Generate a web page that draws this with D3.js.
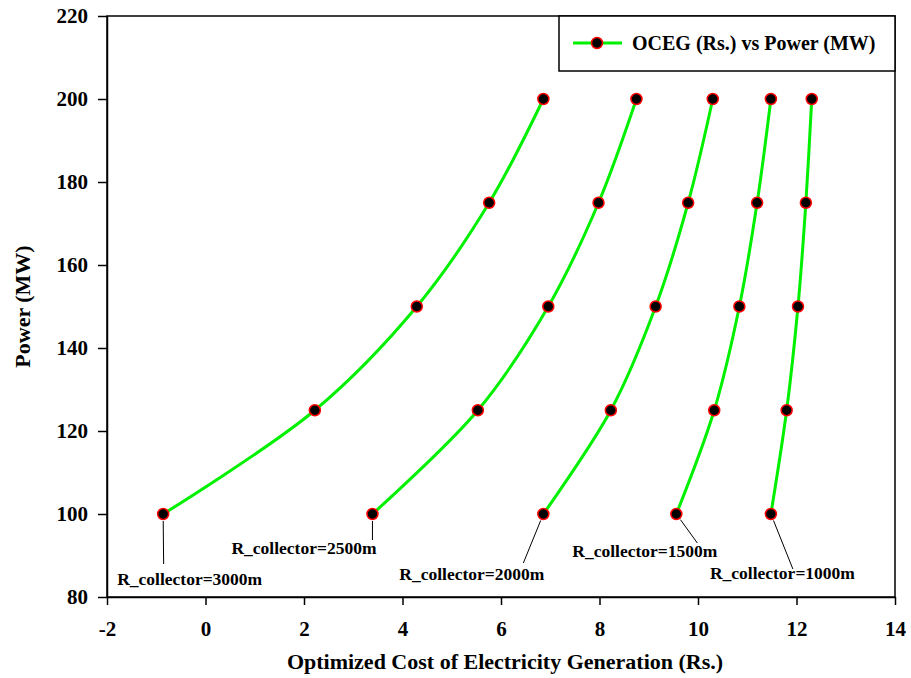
<!DOCTYPE html>
<html>
<head>
<meta charset="utf-8">
<script src="https://cdn.jsdelivr.net/npm/d3@7"></script>
<style>
  html, body { margin: 0; padding: 0; background: #fff; }
  svg { display: block; }
  text { font-family: "Liberation Serif", "Times New Roman", serif; font-weight: bold; fill: #000; }
</style>
</head>
<body>
<svg id="chart" width="911" height="678"></svg>
<script>
// ---- Data ----
const powerLevels = [100, 125, 150, 175, 200];
const seriesNames = ["R_collector=3000m", "R_collector=2500m", "R_collector=2000m", "R_collector=1500m", "R_collector=1000m"];
const cost3000 = [-0.86, 2.22, 4.29, 5.76, 6.86];
const cost2500 = [3.39, 5.53, 6.96, 7.98, 8.75];
const cost2000 = [6.86, 8.23, 9.14, 9.80, 10.30];
const cost1500 = [9.56, 10.33, 10.84, 11.20, 11.48];
const cost1000 = [11.48, 11.80, 12.03, 12.19, 12.31];
const xTicks = [-2, 0, 2, 4, 6, 8, 10, 12, 14];
const yTicks = [80, 100, 120, 140, 160, 180, 200, 220];
const legendLabel = "OCEG (Rs.) vs Power (MW)";
const xTitle = "Optimized Cost of Electricity Generation (Rs.)";
const yTitle = "Power (MW)";

const allCosts = [cost3000, cost2500, cost2000, cost1500, cost1000];

// ---- Layout ----
const W = 911, H = 678;
const margin = { left: 107, top: 16, right: 16, bottom: 81 };
const iw = W - margin.left - margin.right;
const ih = H - margin.top - margin.bottom;

const svg = d3.select("#chart");
const g = svg.append("g").attr("transform", `translate(${margin.left},${margin.top})`);

const x = d3.scaleLinear().domain([-2, 14]).range([0, iw]);
const y = d3.scaleLinear().domain([80, 220]).range([ih, 0]);

// frame
g.append("rect").attr("x", 0).attr("y", 0).attr("width", iw).attr("height", ih)
  .attr("fill", "none").attr("stroke", "#000").attr("stroke-width", 1.5);

// axes
const xAxis = g.append("g").attr("transform", `translate(0,${ih})`)
  .call(d3.axisBottom(x).tickValues(xTicks).tickSizeOuter(0).tickSizeInner(8).tickPadding(12).tickFormat(d => String(d)));
const yAxis = g.append("g")
  .call(d3.axisLeft(y).tickValues(yTicks).tickSizeOuter(0).tickSizeInner(9).tickPadding(10).tickFormat(d => String(d)));
[xAxis, yAxis].forEach(a => {
  a.selectAll("path").attr("stroke", "#000").attr("stroke-width", 1.5);
  a.selectAll("line").attr("stroke", "#000").attr("stroke-width", 1.5);
  a.selectAll("text").style("font-family", '"Liberation Serif", serif').style("font-weight", "bold").style("font-size", "21px").attr("fill", "#000");
});
xAxis.selectAll("text").attr("dy", "0.9em");

// axis titles
svg.append("text").attr("x", margin.left + iw / 2 + 4).attr("y", 669)
  .attr("text-anchor", "middle").style("font-size", "22px").text(xTitle);
svg.append("text").attr("transform", `translate(30,${margin.top + ih / 2}) rotate(-90)`)
  .attr("text-anchor", "middle").style("font-size", "22px").text(yTitle);

// lines and points
const line = d3.line().x(d => x(d[0])).y(d => y(d[1])).curve(d3.curveCatmullRom.alpha(0.5));
allCosts.forEach(costs => {
  const pts = costs.map((c, i) => [c, powerLevels[i]]);
  g.append("path").datum(pts).attr("d", line)
    .attr("fill", "none").attr("stroke", "#00f000").attr("stroke-width", 3);
});
allCosts.forEach(costs => {
  const pts = costs.map((c, i) => [c, powerLevels[i]]);
  g.selectAll(null).data(pts).enter().append("circle")
    .attr("cx", d => x(d[0])).attr("cy", d => y(d[1])).attr("r", 5.5)
    .attr("fill", "#000").attr("stroke", "#ff0000").attr("stroke-width", 1.5);
});

// annotations: label offsets relative to the first point (pixels)
const annot = [
  { dx: 0.5, dy: 50, tx: -46, ty: 71 },
  { dx: 0, dy: 26, tx: -141, ty: 40 },
  { dx: -20, dy: 49, tx: -144, ty: 66 },
  { dx: 21, dy: 29, tx: -104, ty: 43 },
  { dx: 22, dy: 55, tx: -61, ty: 65 }
];
allCosts.forEach((costs, i) => {
  const px = x(costs[0]), py = y(powerLevels[0]);
  const a = annot[i];
  const sx = a.dx === 0 ? 0 : a.dx / Math.hypot(a.dx, a.dy) * 7;
  const sy = a.dy / Math.hypot(a.dx, a.dy) * 7;
  g.append("line").attr("x1", px + sx).attr("y1", py + sy).attr("x2", px + a.dx).attr("y2", py + a.dy)
    .attr("stroke", "#000").attr("stroke-width", 1);
  g.append("text").attr("x", px + a.tx).attr("y", py + a.ty)
    .style("font-size", "17.5px").text(seriesNames[i]);
});

// legend
const lg = svg.append("g");
lg.append("rect").attr("x", 559).attr("y", margin.top).attr("width", 895 - 559).attr("height", 55)
  .attr("fill", "#fff").attr("stroke", "#000").attr("stroke-width", 1.5);
lg.append("line").attr("x1", 573).attr("x2", 622).attr("y1", 43).attr("y2", 43)
  .attr("stroke", "#00f000").attr("stroke-width", 3);
lg.append("circle").attr("cx", 597).attr("cy", 43).attr("r", 5.5)
  .attr("fill", "#000").attr("stroke", "#ff0000").attr("stroke-width", 1.5);
lg.append("text").attr("x", 632).attr("y", 50).style("font-size", "20px").text(legendLabel);
</script>
</body>
</html>
